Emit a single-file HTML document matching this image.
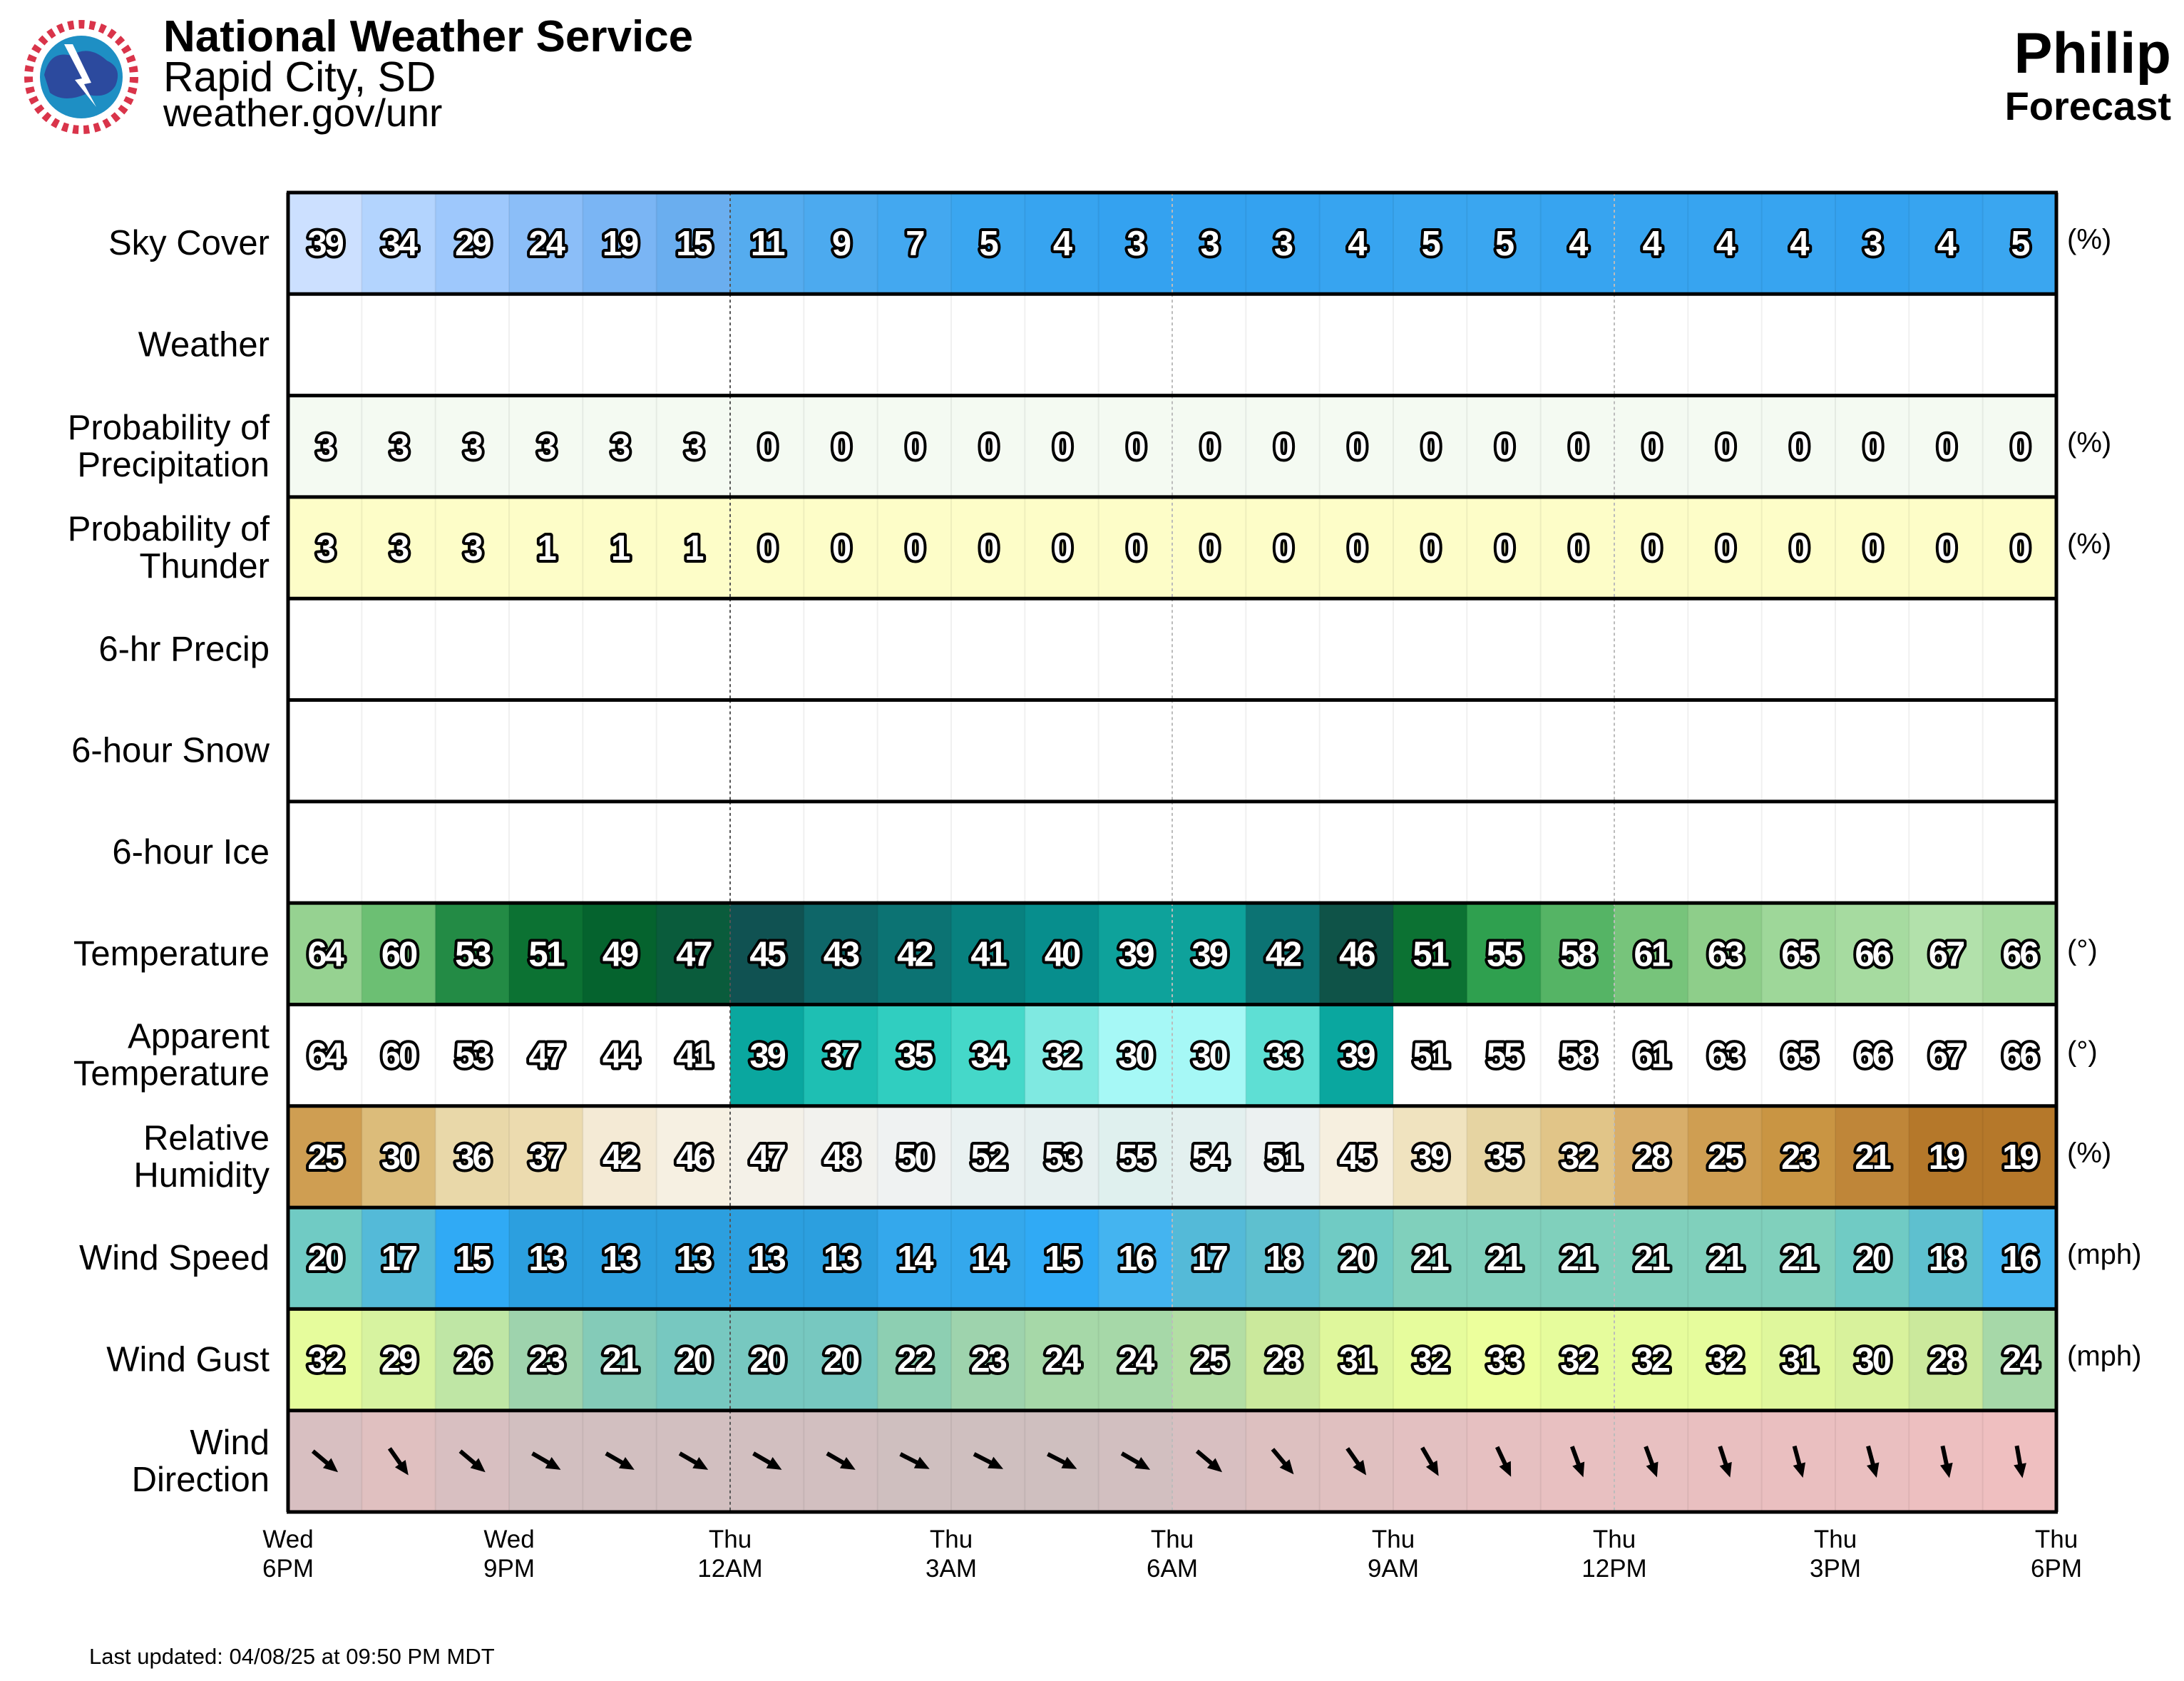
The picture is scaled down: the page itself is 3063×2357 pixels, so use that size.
<!DOCTYPE html>
<html><head><meta charset="utf-8"><style>
html,body{margin:0;padding:0;background:#fff;}
svg{display:block;font-family:"Liberation Sans",Arial,sans-serif;}
</style></head><body>
<svg id="chart" width="3063" height="2357" viewBox="0 0 3063 2357" xmlns="http://www.w3.org/2000/svg">
<g>
<circle cx="114" cy="108" r="74" fill="#fff" stroke="#d9344a" stroke-width="12" stroke-dasharray="8 7"/>
<circle cx="114" cy="108" r="58" fill="#1e8fc4"/>
<path d="M62 105 Q70 70 100 78 Q125 62 150 85 Q172 95 162 120 Q150 140 120 132 Q90 145 70 130 Z" fill="#2c4a9e"/>
<path d="M90 62 L115 110 L105 112 L135 150 L118 118 L128 116 L102 62 Z" fill="#fff"/>
</g>
<text x="229" y="72" font-size="62" font-weight="bold">National Weather Service</text>
<text x="229" y="128" font-size="59">Rapid City, SD</text>
<text x="229" y="177" font-size="55">weather.gov/unr</text>
<text x="3045" y="102" font-size="81" font-weight="bold" text-anchor="end">Philip</text>
<text x="3045" y="168" font-size="56" font-weight="bold" text-anchor="end">Forecast</text>
<text x="125" y="2333" font-size="31">Last updated: 04/08/25 at 09:50 PM MDT</text>
<g id="grid"></g>
</svg>
<script>
const hours = ["6PM","7PM","8PM","9PM","10PM","11PM","12AM","1AM","2AM","3AM","4AM","5AM","6AM","7AM","8AM","9AM","10AM","11AM","12PM","1PM","2PM","3PM","4PM","5PM"];
const skyCover = [39,34,29,24,19,15,11,9,7,5,4,3,3,3,4,5,5,4,4,4,4,3,4,5];
const popValues = [3,3,3,3,3,3,0,0,0,0,0,0,0,0,0,0,0,0,0,0,0,0,0,0];
const thunderValues = [3,3,3,1,1,1,0,0,0,0,0,0,0,0,0,0,0,0,0,0,0,0,0,0];
const temperature = [64,60,53,51,49,47,45,43,42,41,40,39,39,42,46,51,55,58,61,63,65,66,67,66];
const apparentTemp = [64,60,53,47,44,41,39,37,35,34,32,30,30,33,39,51,55,58,61,63,65,66,67,66];
const humidity = [25,30,36,37,42,46,47,48,50,52,53,55,54,51,45,39,35,32,28,25,23,21,19,19];
const windSpeed = [20,17,15,13,13,13,13,13,14,14,15,16,17,18,20,21,21,21,21,21,21,20,18,16];
const windGust = [32,29,26,23,21,20,20,20,22,23,24,24,25,28,31,32,33,32,32,32,31,30,28,24];
const windDir = [310,325,310,300,300,300,300,300,297,297,297,300,310,320,325,330,335,340,340,342,345,345,348,350];
const timeLabels = [["Wed","6PM"],["Wed","9PM"],["Thu","12AM"],["Thu","3AM"],["Thu","6AM"],["Thu","9AM"],["Thu","12PM"],["Thu","3PM"],["Thu","6PM"]];

const L=404,R=2884,T=270,B=2120,NR=13,NC=hours.length;
const rowH=(B-T)/NR, colW=(R-L)/NC;
const xAt=i=>L+i*colW, yAt=r=>T+r*rowH;
const NS="http://www.w3.org/2000/svg";
const g=document.getElementById('grid');
function mk(tag,attrs,parent){const e=document.createElementNS(NS,tag);for(const k in attrs)e.setAttribute(k,attrs[k]);(parent||g).appendChild(e);return e;}
function hex(h){return [1,3,5].map(i=>parseInt(h.substr(i,2),16));}
function cmap(stops){return v=>{if(v<=stops[0][0])return stops[0][1];for(let i=1;i<stops.length;i++){if(v<=stops[i][0]){const[a,ca]=stops[i-1],[b,cb]=stops[i];const t=(v-a)/(b-a);const A=hex(ca),Bc=hex(cb);return 'rgb('+A.map((x,j)=>Math.round(x+(Bc[j]-x)*t)).join(',')+')';}}return stops[stops.length-1][1];};}
const skyC=cmap([[0,"#2a9df0"],[5,"#3aa6f0"],[11,"#55acef"],[15,"#6aaeef"],[19,"#7ab5f4"],[24,"#8bbef8"],[29,"#9ec8fc"],[34,"#b3d4fe"],[39,"#cce0ff"],[100,"#f0f6ff"]]);
const popC=()=>"#f4faf2", thC=()=>"#fdfdc8", whiteC=()=>"#ffffff";
const tempC=cmap([[30,"#6ff0ea"],[39,"#0ea29b"],[40,"#078e8d"],[41,"#08817f"],[42,"#0c7373"],[43,"#0e6668"],[45,"#105252"],[46,"#0f5348"],[47,"#0a5c3c"],[49,"#05632e"],[51,"#0c7233"],[53,"#238b45"],[55,"#2fa04f"],[58,"#55b465"],[60,"#6cbf73"],[63,"#8ece8a"],[66,"#a6dba0"],[67,"#b2e1ab"]]);
const appC=v=>v>=40?"#ffffff":cmap([[30,"#a6f8f6"],[32,"#7fe9e1"],[33,"#5edfd4"],[34,"#45d8c9"],[35,"#30cec0"],[37,"#1ebfb3"],[39,"#0aa79f"]])(v);
const rhC=cmap([[19,"#b5782a"],[21,"#bf8639"],[23,"#c99543"],[25,"#cf9e52"],[28,"#d8ae6a"],[30,"#dcbc7a"],[32,"#e1c588"],[35,"#e6d4a2"],[37,"#ecdbaf"],[39,"#f0e3bf"],[42,"#f4ead5"],[46,"#f6f0e2"],[48,"#f2f2ee"],[50,"#eff2f2"],[53,"#e6f0f0"],[55,"#dff0ee"]]);
const wsC=cmap([[13,"#2c9fdf"],[14,"#34a8ec"],[15,"#30aaf5"],[16,"#44b4f0"],[17,"#54bad8"],[18,"#5ec0cf"],[20,"#70cbc4"],[21,"#80d0bc"]]);
const wgC=cmap([[20,"#77c8c0"],[21,"#84cbb8"],[22,"#8dcfb2"],[23,"#9ed3ad"],[24,"#a6d8a8"],[25,"#b3dea4"],[26,"#bfe6a5"],[28,"#cbe99c"],[29,"#d7f3a0"],[30,"#d8f29c"],[31,"#dff79c"],[32,"#e6fc9c"],[33,"#ecff9c"]]);
const wdC=cmap([[295,"#cdbfbf"],[300,"#d2bfc0"],[310,"#d8bfc1"],[325,"#e0c0c0"],[335,"#e6c0c1"],[345,"#eabfc0"],[350,"#efbfc0"]]);

const rows=[
 {label:["Sky Cover"],vals:skyCover,color:skyC,unit:"(%)",name:"sky-cover"},
 {label:["Weather"],vals:null,color:whiteC,name:"weather"},
 {label:["Probability of","Precipitation"],vals:popValues,color:popC,unit:"(%)",name:"precip-probability"},
 {label:["Probability of","Thunder"],vals:thunderValues,color:thC,unit:"(%)",name:"thunder-probability"},
 {label:["6-hr Precip"],vals:null,color:whiteC,name:"six-hr-precip"},
 {label:["6-hour Snow"],vals:null,color:whiteC,name:"six-hour-snow"},
 {label:["6-hour Ice"],vals:null,color:whiteC,name:"six-hour-ice"},
 {label:["Temperature"],vals:temperature,color:tempC,unit:"(°)",name:"temperature"},
 {label:["Apparent","Temperature"],vals:apparentTemp,color:appC,unit:"(°)",name:"apparent-temperature"},
 {label:["Relative","Humidity"],vals:humidity,color:rhC,unit:"(%)",name:"relative-humidity"},
 {label:["Wind Speed"],vals:windSpeed,color:wsC,unit:"(mph)",name:"wind-speed"},
 {label:["Wind Gust"],vals:windGust,color:wgC,unit:"(mph)",name:"wind-gust"},
 {label:["Wind","Direction"],vals:windDir,color:wdC,name:"wind-direction",arrows:true}
];

rows.forEach((row,r)=>{
  const y0=yAt(r), cy=y0+rowH/2;
  const rg=mk('g',{});
  
  
  for(let i=0;i<NC;i++){
    const v=row.vals?row.vals[i]:0;
    const c=mk('rect',{x:xAt(i),y:y0,width:colW+0.6,height:rowH,fill:row.color(v)},rg);
    
    
  }
  for(let i=1;i<NC;i++){
    const dark=(i===6);
    mk('line',{x1:xAt(i),x2:xAt(i),y1:y0,y2:y0+rowH,stroke:dark?'#555':(i%6===0?'#bbb':'rgba(0,0,0,0.06)'),'stroke-width':2,'stroke-dasharray':(i%6===0)?'4 4':'none'},rg);
  }
  const lab=mk('text',{x:378,y:row.label.length===1?cy+16:cy-10,'font-size':49,'text-anchor':'end',fill:'#000'});
  
  
  row.label.forEach((t,k)=>{const ts=mk('tspan',{x:378,dy:k===0?0:52},lab);ts.textContent=t;});
  if(row.unit){const u=mk('text',{x:R+15,y:cy+8,'font-size':40});u.textContent=row.unit;
    
    }
  if(row.vals&&!row.arrows){
    for(let i=0;i<NC;i++){
      const t=mk('text',{x:xAt(i)+colW/2,y:cy+17,'font-size':49,'font-weight':'bold','text-anchor':'middle',fill:'#fff',stroke:'#000','stroke-width':8,'paint-order':'stroke','stroke-linejoin':'round','letter-spacing':'-3'},rg);
      t.textContent=row.vals[i];
      
      
    }
  }
  if(row.arrows){
    for(let i=0;i<NC;i++){
      const heading=(row.vals[i]+180)%360;
      const ang=heading-90;
      const a=mk('g',{transform:`translate(${xAt(i)+colW/2},${cy}) rotate(${ang})`},rg);
      
      
      mk('line',{x1:-22,y1:0,x2:10,y2:0,stroke:'#000','stroke-width':6},a);
      mk('polygon',{points:'24,0 4,-9 4,9',fill:'#000'},a);
    }
  }
});
for(let r=0;r<=NR;r++){mk('line',{x1:L-2,x2:R+2,y1:yAt(r),y2:yAt(r),stroke:'#000','stroke-width':5});}
mk('line',{x1:L,x2:L,y1:T,y2:B,stroke:'#000','stroke-width':5});
mk('line',{x1:R,x2:R,y1:T,y2:B,stroke:'#000','stroke-width':5});
timeLabels.forEach((lb,k)=>{
  const x=xAt(k*3);
  const t=mk('text',{x:x,y:2170,'font-size':35,'text-anchor':'middle'});
  
  
  const a=mk('tspan',{x:x,dy:0},t);a.textContent=lb[0];
  const b=mk('tspan',{x:x,dy:41},t);b.textContent=lb[1];
});
</script>
</body></html>
